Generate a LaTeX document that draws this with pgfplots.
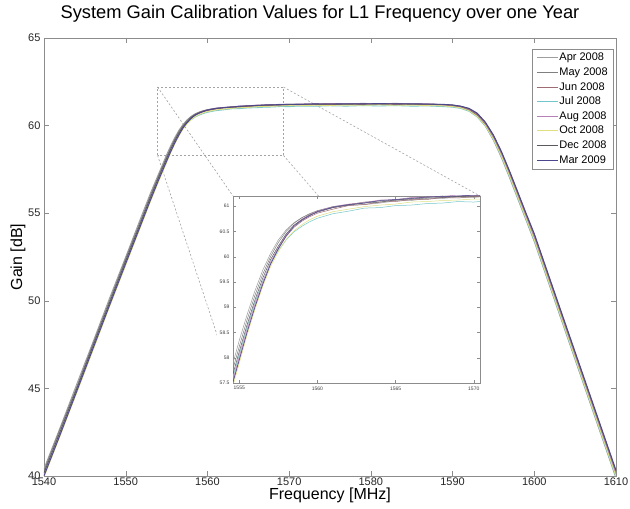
\documentclass[border=0pt]{standalone}
\usepackage{pgfplots}
\pgfplotsset{compat=1.18}
\usepackage{pgfplotstable}
\usepackage{fontspec}
\setmainfont{Liberation Sans}

\definecolor{capr}{rgb}{0.62,0.62,0.62}
\definecolor{cmay}{rgb}{0.50,0.50,0.50}
\definecolor{cjun}{rgb}{0.62,0.42,0.45}
\definecolor{cjul}{rgb}{0.45,0.78,0.80}
\definecolor{caug}{rgb}{0.72,0.50,0.72}
\definecolor{coct}{rgb}{0.88,0.88,0.50}
\definecolor{cdec}{rgb}{0.35,0.35,0.38}
\definecolor{cmar}{rgb}{0.30,0.28,0.55}
\definecolor{boxgray}{rgb}{0.55,0.55,0.55}

\pgfplotstableread{
f apr may jun jul aug oct dec mar
1540 40.42 40.30 40.00 40.12 40.06 39.94 40.18 40.00
1542 42.80 42.72 42.41 42.50 42.47 42.33 42.57 42.38
1544 45.24 45.08 44.80 44.93 44.85 44.75 44.98 44.82
1546 47.66 47.56 47.25 47.36 47.32 47.19 47.44 47.27
1548 50.13 49.99 49.70 49.81 49.75 49.65 49.87 49.71
1550 52.51 52.41 52.10 52.23 52.17 52.04 52.29 52.12
1552 54.93 54.79 54.50 54.61 54.57 54.44 54.67 54.51
1553 56.12 56.00 55.70 55.82 55.76 55.64 55.88 55.71
1554 57.23 57.12 56.85 56.96 56.91 56.79 57.02 56.86
1554.5 57.78 57.67 57.40 57.51 57.46 57.34 57.57 57.41
1555 58.34 58.22 57.95 58.06 58.01 57.89 58.12 57.96
1555.5 58.85 58.75 58.50 58.60 58.55 58.45 58.65 58.50
1556 59.32 59.23 59.00 59.09 59.05 58.95 59.14 59.00
1556.5 59.73 59.65 59.45 59.51 59.49 59.41 59.57 59.45
1557 60.06 60.00 59.85 59.86 59.89 59.80 59.94 59.85
1557.5 60.33 60.28 60.15 60.12 60.18 60.10 60.21 60.16
1558 60.53 60.50 60.40 60.33 60.43 60.34 60.45 60.41
1558.5 60.67 60.66 60.58 60.49 60.62 60.51 60.62 60.60
1559 60.77 60.77 60.70 60.60 60.74 60.63 60.73 60.72
1559.5 60.84 60.85 60.79 60.69 60.83 60.73 60.82 60.81
1560 60.90 60.91 60.86 60.76 60.90 60.80 60.88 60.89
1561 60.97 60.99 60.94 60.85 60.99 60.89 60.97 60.98
1562 61.02 61.03 61.01 60.90 61.04 60.94 61.02 61.03
1563 61.03 61.08 61.03 60.96 61.07 60.99 61.06 61.06
1564 61.06 61.10 61.08 60.97 61.12 61.02 61.08 61.11
1565 61.11 61.12 61.09 61.01 61.13 61.04 61.12 61.13
1566 61.11 61.16 61.13 61.02 61.17 61.08 61.14 61.15
1567 61.15 61.17 61.13 61.05 61.18 61.09 61.16 61.18
1568 61.15 61.20 61.17 61.06 61.19 61.11 61.17 61.19
1569 61.18 61.19 61.16 61.09 61.22 61.12 61.19 61.20
1570 61.17 61.22 61.19 61.08 61.21 61.14 61.20 61.22
1571 61.20 61.21 61.18 61.11 61.23 61.13 61.21 61.21
1573 61.19 61.24 61.21 61.10 61.24 61.16 61.22 61.24
1575 61.22 61.23 61.20 61.13 61.26 61.15 61.23 61.23
1577 61.20 61.25 61.22 61.11 61.24 61.17 61.22 61.25
1579 61.23 61.24 61.21 61.14 61.27 61.16 61.24 61.24
1581 61.21 61.26 61.23 61.12 61.25 61.18 61.23 61.26
1583 61.23 61.24 61.21 61.14 61.27 61.16 61.25 61.24
1585 61.20 61.25 61.22 61.11 61.24 61.17 61.22 61.25
1587 61.21 61.22 61.19 61.12 61.24 61.14 61.22 61.23
1589 61.16 61.20 61.18 61.08 61.20 61.12 61.20 61.21
1590 61.12 61.15 61.13 61.05 61.16 61.08 61.17 61.18
1591 61.05 61.08 61.07 60.98 61.10 61.01 61.10 61.11
1592 60.88 60.92 60.91 60.82 60.95 60.85 60.97 60.99
1593 60.53 60.60 60.60 60.50 60.66 60.53 60.69 60.72
1594 59.98 60.06 60.08 59.98 60.13 60.01 60.18 60.21
1595 59.16 59.25 59.30 59.19 59.35 59.23 59.43 59.47
1596 58.14 58.25 58.30 58.19 58.36 58.24 58.46 58.51
1597 56.98 57.10 57.16 57.04 57.22 57.09 57.33 57.39
1598 55.78 55.90 55.96 55.84 56.02 55.89 56.14 56.20
1599 54.58 54.70 54.76 54.64 54.82 54.69 54.94 55.00
1600 53.37 53.50 53.57 53.43 53.64 53.49 53.77 53.84
1602 50.67 50.80 50.87 50.73 50.94 50.79 51.07 51.14
1604 47.97 48.10 48.17 48.03 48.24 48.09 48.37 48.44
1606 45.27 45.40 45.47 45.33 45.54 45.39 45.67 45.74
1608 42.57 42.70 42.77 42.63 42.84 42.69 42.97 43.04
1610 39.87 40.00 40.07 39.93 40.14 39.99 40.27 40.34
}\gaintable

\begin{document}
\begin{tikzpicture}
\useasboundingbox (-44pt,-33pt) rectangle (586pt,476pt);
\begin{axis}[
  at={(0pt,0pt)}, anchor=south west,
  scale only axis, width=572pt, height=438pt,
  xmin=1540, xmax=1610, ymin=40, ymax=65,
  xtick={1540,1550,...,1610}, ytick={40,45,...,65},
  tick align=inside, major tick length=5pt,
  axis line style={boxgray}, tick style={boxgray},
  /pgf/number format/assume math mode=true,
  /pgf/number format/1000 sep={},
  ticklabel style={font=\fontsize{11}{12}\selectfont, text=black!85},
  xticklabel style={yshift=1.5pt},
  title={System Gain Calibration Values for L1 Frequency over one Year},
  every axis title/.style={at={(axis description cs:0.4825,1.0548)}, anchor=center, font=\fontsize{18.3}{20}\selectfont},
  xlabel={Frequency [MHz]},
  xlabel style={at={(axis description cs:0.5,-0.0445)}, anchor=center, font=\fontsize{16}{18}\selectfont},
  ylabel={Gain [dB]},
  ylabel style={at={(axis description cs:-0.0455,0.5)}, anchor=center, font=\fontsize{16}{18}\selectfont},
  legend cell align=left,
  legend style={at={(axis description cs:0.995,0.975)}, anchor=north east,
    draw=boxgray, font=\fontsize{11}{12}\selectfont, inner xsep=4pt, inner ysep=2.5pt,
    nodes={inner sep=1.2pt, text height=8pt, text depth=2pt}, row sep=2.2pt},
  legend image code/.code={\draw[#1] (0pt,0pt) -- (21pt,0pt);},
  every axis plot/.append style={line width=0.85pt},
]
\draw[boxgray!80, dash pattern=on 2pt off 2pt, line width=0.6pt] (axis cs:1553.9,58.3) rectangle (axis cs:1569.3,62.2);
\draw[boxgray!80, dash pattern=on 2pt off 2pt, line width=0.6pt] (axis cs:1553.9,62.2) -- (axis cs:1563.13,55.98);
\draw[boxgray!80, dash pattern=on 2pt off 2pt, line width=0.6pt] (axis cs:1553.9,58.3) -- (axis cs:1563.13,45.31);
\draw[boxgray!80, dash pattern=on 2pt off 2pt, line width=0.6pt] (axis cs:1569.3,62.2) -- (axis cs:1593.36,55.98);
\draw[boxgray!80, dash pattern=on 2pt off 2pt, line width=0.6pt] (axis cs:1569.3,58.3) -- (axis cs:1593.36,45.31);
\fill[white] (axis cs:1561.2,44.5) rectangle (axis cs:1593.4,56.0);
\addplot[capr] table[x=f,y=apr] {\gaintable};
\addplot[cmay] table[x=f,y=may] {\gaintable};
\addplot[cjun] table[x=f,y=jun] {\gaintable};
\addplot[cjul] table[x=f,y=jul] {\gaintable};
\addplot[caug] table[x=f,y=aug] {\gaintable};
\addplot[coct] table[x=f,y=oct] {\gaintable};
\addplot[cdec] table[x=f,y=dec] {\gaintable};
\addplot[cmar] table[x=f,y=mar] {\gaintable};
\legend{Apr 2008,May 2008,Jun 2008,Jul 2008,Aug 2008,Oct 2008,Dec 2008,Mar 2009}
\end{axis}
\begin{axis}[
  at={(189pt,93pt)}, anchor=south west,
  scale only axis, width=247pt, height=187pt,
  xmin=1554.6, xmax=1570.4, ymin=57.5, ymax=61.2,
  xtick={1555,1560,1565,1570}, ytick={57.5,58,...,61},
  tick align=inside, major tick length=3pt,
  axis line style={boxgray}, tick style={boxgray},
  axis background/.style={fill=white},
  /pgf/number format/assume math mode=true,
  /pgf/number format/1000 sep={},
  /pgf/number format/fixed,
  ticklabel style={font=\fontsize{5}{6}\selectfont, text=black!75},
  every axis plot/.append style={line width=0.5pt},
]
\addplot[capr] table[x=f,y=apr] {\gaintable};
\addplot[cmay] table[x=f,y=may] {\gaintable};
\addplot[cjun] table[x=f,y=jun] {\gaintable};
\addplot[cjul] table[x=f,y=jul] {\gaintable};
\addplot[caug] table[x=f,y=aug] {\gaintable};
\addplot[coct] table[x=f,y=oct] {\gaintable};
\addplot[cdec] table[x=f,y=dec] {\gaintable};
\addplot[cmar] table[x=f,y=mar] {\gaintable};
\end{axis}
\end{tikzpicture}
\end{document}
